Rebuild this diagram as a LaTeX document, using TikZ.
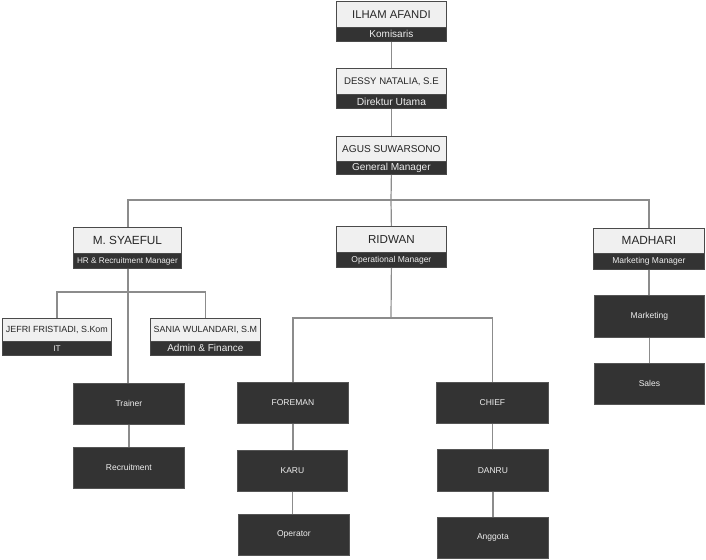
\documentclass[tikz,border=0pt]{standalone}
\usepackage{fontspec}
\setmainfont{Liberation Sans}
\definecolor{lightfill}{HTML}{F0F0F0}
\definecolor{boxborder}{HTML}{4A4A4A}
\definecolor{darkfill}{HTML}{333333}
\definecolor{darkborder}{HTML}{555555}
\definecolor{linegray}{HTML}{8C8C8C}
\definecolor{roletext}{HTML}{EEEEEE}
\begin{document}
\begin{tikzpicture}[x=1pt,y=-1pt,
  namebox/.style={draw=boxborder, line width=0.8pt, fill=lightfill, text=black!85, inner sep=0pt, anchor=north west},
  rolebox/.style={draw=boxborder, line width=0.8pt, fill=darkfill, text=roletext, inner sep=0pt, anchor=north west},
  darkbox/.style={draw=darkborder, line width=0.8pt, fill=darkfill, text=roletext, inner sep=0pt, anchor=north west, font=\fontsize{8.5}{10}\selectfont},
  conn/.style={draw=linegray, line width=1.2pt}]
\useasboundingbox (0,0) rectangle (706,559);
\fill[white] (0,0) rectangle (706,559);

% person boxes
\node[namebox, minimum width=110pt, minimum height=26pt, font=\fontsize{11.3}{13}\selectfont] (ilham) at (336,1) {ILHAM AFANDI};
\node[rolebox, minimum width=110pt, minimum height=14pt, font=\fontsize{10}{12}\selectfont] (ilhamR) at (336,27) {Komisaris};

\node[namebox, minimum width=110pt, minimum height=26pt, font=\fontsize{9.6}{12}\selectfont] (dessy) at (336,68) {DESSY NATALIA, S.E};
\node[rolebox, minimum width=110pt, minimum height=14pt, font=\fontsize{10.3}{12}\selectfont] (dessyR) at (336,94) {Direktur Utama};

\node[namebox, minimum width=110pt, minimum height=25pt, font=\fontsize{10.1}{12}\selectfont] (agus) at (336,136) {AGUS SUWARSONO};
\node[rolebox, minimum width=110pt, minimum height=13pt, font=\fontsize{10.1}{12}\selectfont] (agusR) at (336,161) {General Manager};

\node[namebox, minimum width=108pt, minimum height=26pt, font=\fontsize{11.8}{14}\selectfont] (syaeful) at (73,227) {M. SYAEFUL};
\node[rolebox, minimum width=108pt, minimum height=15pt, font=\fontsize{8.2}{10}\selectfont] (syaefulR) at (73,253) {HR \& Recruitment Manager};

\node[namebox, minimum width=110pt, minimum height=26pt, font=\fontsize{11.6}{14}\selectfont] (ridwan) at (336,226) {RIDWAN};
\node[rolebox, minimum width=110pt, minimum height=15pt, font=\fontsize{8.5}{10}\selectfont] (ridwanR) at (336,252) {Operational Manager};

\node[namebox, minimum width=111pt, minimum height=25pt, font=\fontsize{11.8}{14}\selectfont] (madhari) at (593,228) {MADHARI};
\node[rolebox, minimum width=111pt, minimum height=16pt, font=\fontsize{8.5}{10}\selectfont] (madhariR) at (593,253) {Marketing Manager};

\node[namebox, minimum width=109pt, minimum height=23pt, font=\fontsize{8.9}{11}\selectfont] (jefri) at (2,318) {JEFRI FRISTIADI, S.Kom};
\node[rolebox, minimum width=109pt, minimum height=14pt, font=\fontsize{8.2}{10}\selectfont] (jefriR) at (2,341) {IT};

\node[namebox, minimum width=110pt, minimum height=23pt, font=\fontsize{8.9}{11}\selectfont] (sania) at (150,318) {SANIA WULANDARI, S.M};
\node[rolebox, minimum width=110pt, minimum height=14pt, font=\fontsize{10}{12}\selectfont] (saniaR) at (150,341) {Admin \& Finance};

% dark boxes
\node[darkbox, minimum width=111pt, minimum height=41pt] (trainer) at (73,383) {Trainer};
\node[darkbox, minimum width=111pt, minimum height=41pt] (recruit) at (73,447) {Recruitment};
\node[darkbox, minimum width=111pt, minimum height=41pt] (foreman) at (237,382) {FOREMAN};
\node[darkbox, minimum width=110pt, minimum height=41pt] (karu) at (237,450) {KARU};
\node[darkbox, minimum width=111pt, minimum height=41pt] (operator) at (238,514) {Operator};
\node[darkbox, minimum width=112pt, minimum height=41pt] (chief) at (436,382) {CHIEF};
\node[darkbox, minimum width=111pt, minimum height=42pt] (danru) at (437,449) {DANRU};
\node[darkbox, minimum width=111pt, minimum height=41pt] (anggota) at (437,517) {Anggota};
\node[darkbox, minimum width=110pt, minimum height=42pt] (marketing) at (594,295) {Marketing};
\node[darkbox, minimum width=110pt, minimum height=41pt] (sales) at (594,363) {Sales};

% connectors
\coordinate (b1) at (391,200);
\coordinate (b2) at (128,292);
\coordinate (b3) at (391,318);

\draw[conn] (ilhamR.south) -- (dessy.north);
\draw[conn] (dessyR.south) -- (agus.north);
\draw[conn] (agusR.south) -- (b1);
\draw[conn] (syaeful.north -| b2) |- (b1) -| (madhari.north);
\draw[conn] (b1) -- (ridwan.north);

\draw[conn] (syaefulR.south -| b2) -- (trainer.north -| b2);
\draw[conn] (jefri.north) |- (b2) -| (sania.north);
\draw[conn] (trainer.south) -- (trainer.south |- recruit.north);

\draw[conn] (ridwanR.south) -- (b3);
\draw[conn] (foreman.north) |- (b3) -| (chief.north);
\draw[conn] (foreman.south) -- (foreman.south |- karu.north);
\draw[conn] (karu.south) -- (karu.south |- operator.north);
\draw[conn] (chief.south) -- (chief.south |- danru.north);
\draw[conn] (danru.south) -- (danru.south |- anggota.north);

\draw[conn] (madhariR.south) -- (madhariR.south |- marketing.north);
\draw[conn] (marketing.south) -- (marketing.south |- sales.north);
\end{tikzpicture}
\end{document}
